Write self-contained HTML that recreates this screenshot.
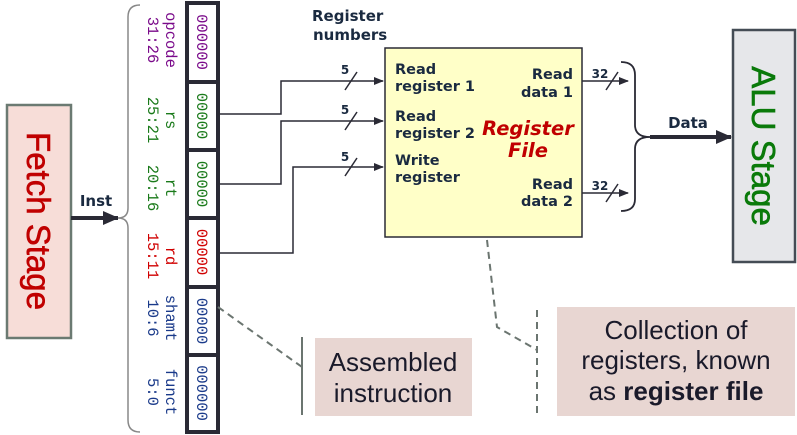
<!DOCTYPE html>
<html><head><meta charset="utf-8"><style>
html,body{margin:0;padding:0;background:#fff;}
svg{display:block;}
</style></head><body>
<svg width="797" height="435" viewBox="0 0 797 435" xmlns="http://www.w3.org/2000/svg">
<defs>
<marker id="ah" markerWidth="10" markerHeight="8" refX="9" refY="4" orient="auto" markerUnits="userSpaceOnUse"><path d="M0,0 L10,4 L0,8 Z" fill="#2a2a35"/></marker>
<marker id="ahb" markerWidth="16" markerHeight="14" refX="15" refY="7" orient="auto" markerUnits="userSpaceOnUse"><path d="M0,0 L16,7 L0,14 Z" fill="#2a2a35"/></marker>
</defs>
<!-- Fetch stage -->
<rect x="7" y="105" width="64" height="233" fill="#f7ddd8" stroke="#6b7a72" stroke-width="2.5"/>
<text transform="translate(27,221) rotate(90)" text-anchor="middle" font-family="Liberation Sans, sans-serif" font-size="33" fill="#c00000" stroke="#c00000" stroke-width="0.6">Fetch Stage</text>
<line x1="71" y1="218" x2="118" y2="218" stroke="#2a2a35" stroke-width="4" marker-end="url(#ahb)"/>
<text x="96" y="206" text-anchor="middle" font-family="DejaVu Sans, sans-serif" font-weight="bold" font-size="15" fill="#1a2a40">Inst</text>
<!-- left brace -->
<path d="M140,5 Q128,5 128,17 L128,208 Q128,218 118,218 Q128,218 128,228 L128,420 Q128,432 140,432" fill="none" stroke="#888" stroke-width="1.5"/>
<!-- instruction fields -->
<g stroke="#2a2a35" stroke-width="4" fill="#fff">
<rect x="187" y="3" width="31" height="429"/>
<line x1="187" y1="82" x2="218" y2="82"/><line x1="187" y1="150" x2="218" y2="150"/><line x1="187" y1="218" x2="218" y2="218"/><line x1="187" y1="287" x2="218" y2="287"/><line x1="187" y1="355" x2="218" y2="355"/>
</g>
<g font-family="Liberation Mono, monospace" font-size="15.5" text-anchor="middle">
<text transform="translate(197,42) rotate(90)" fill="#7a0a8a">000000</text>
<text transform="translate(197,116) rotate(90)" fill="#1a7a1a">00000</text>
<text transform="translate(197,184) rotate(90)" fill="#1a7a1a">00000</text>
<text transform="translate(197,252) rotate(90)" fill="#d00000">00000</text>
<text transform="translate(197,321) rotate(90)" fill="#1a3a8a">00000</text>
<text transform="translate(197,393) rotate(90)" fill="#1a3a8a">000000</text>
<text transform="translate(166,40) rotate(90)" fill="#7a0a8a">opcode</text>
<text transform="translate(148,40) rotate(90)" fill="#7a0a8a">31:26</text>
<text transform="translate(166,120) rotate(90)" fill="#1a7a1a">rs</text>
<text transform="translate(148,120) rotate(90)" fill="#1a7a1a">25:21</text>
<text transform="translate(166,188) rotate(90)" fill="#1a7a1a">rt</text>
<text transform="translate(148,188) rotate(90)" fill="#1a7a1a">20:16</text>
<text transform="translate(166,256) rotate(90)" fill="#d00000">rd</text>
<text transform="translate(148,256) rotate(90)" fill="#d00000">15:11</text>
<text transform="translate(166,318) rotate(90)" fill="#1a3a8a">shamt</text>
<text transform="translate(148,318) rotate(90)" fill="#1a3a8a">10:6</text>
<text transform="translate(166,392) rotate(90)" fill="#1a3a8a">funct</text>
<text transform="translate(148,392) rotate(90)" fill="#1a3a8a">5:0</text>
</g>
<!-- wires -->
<g fill="none" stroke="#2a2a35" stroke-width="1.5">
<path d="M218,114 L281,114 L281,81 L383,81" marker-end="url(#ah)"/>
<path d="M218,184 L281,184 L281,121 L383,121" marker-end="url(#ah)"/>
<path d="M218,253 L293,253 L293,167 L383,167" marker-end="url(#ah)"/>
<line x1="345" y1="90" x2="357" y2="72"/><line x1="345" y1="130" x2="357" y2="112"/><line x1="345" y1="176" x2="357" y2="158"/>
<path d="M582,81 L628,81" marker-end="url(#ah)"/>
<path d="M582,193 L628,193" marker-end="url(#ah)"/>
<line x1="606" y1="90" x2="618" y2="72"/><line x1="606" y1="202" x2="618" y2="184"/>
</g>
<g font-family="DejaVu Sans, sans-serif" font-weight="bold" font-size="12" fill="#1a2a40">
<text x="345" y="74" text-anchor="middle">5</text><text x="345" y="114" text-anchor="middle">5</text><text x="345" y="161" text-anchor="middle">5</text>
<text x="600" y="78" text-anchor="middle">32</text><text x="600" y="190" text-anchor="middle">32</text>
</g>
<text font-family="DejaVu Sans, sans-serif" font-weight="bold" font-size="15" fill="#1a2a40"><tspan x="312" y="21">Register</tspan><tspan x="313" y="40">numbers</tspan></text>
<!-- register file -->
<rect x="385" y="48" width="197" height="189" fill="#ffffc8" stroke="#2a2a35" stroke-width="1.5"/>
<g font-family="DejaVu Sans, sans-serif" font-weight="bold" font-size="14.5" fill="#1a2a40">
<text x="395" y="74">Read</text><text x="395" y="91">register 1</text>
<text x="395" y="121">Read</text><text x="395" y="138">register 2</text>
<text x="395" y="165">Write</text><text x="395" y="182">register</text>
<text x="573" y="79" text-anchor="end">Read</text><text x="573" y="97" text-anchor="end">data 1</text>
<text x="573" y="189" text-anchor="end">Read</text><text x="573" y="206" text-anchor="end">data 2</text>
</g>
<g font-family="DejaVu Sans, sans-serif" font-weight="bold" font-style="italic" font-size="19.5" fill="#c00000" text-anchor="middle">
<text x="528" y="135">Register</text><text x="528" y="157">File</text>
</g>
<!-- right brace -->
<path d="M621,62 Q635,62 635,75 L635,125 Q635,137 650,137 Q635,137 635,149 L635,199 Q635,211 621,211" fill="none" stroke="#2a2a35" stroke-width="1.8"/>
<line x1="650" y1="137" x2="731" y2="137" stroke="#2a2a35" stroke-width="4" marker-end="url(#ahb)"/>
<text x="688" y="128" text-anchor="middle" font-family="DejaVu Sans, sans-serif" font-weight="bold" font-size="15" fill="#1a2a40">Data</text>
<!-- ALU -->
<rect x="733" y="30" width="62" height="232" fill="#e6e7ea" stroke="#444c55" stroke-width="2.5"/>
<text transform="translate(752,146) rotate(90)" text-anchor="middle" font-family="Liberation Sans, sans-serif" font-size="33" fill="#0a7a0a" stroke="#0a7a0a" stroke-width="0.6">ALU Stage</text>
<!-- callouts -->
<g stroke="#6b7570" stroke-width="2" fill="none">
<path d="M218,307 L302,367" stroke-dasharray="7,5"/>
<line x1="302" y1="337" x2="302" y2="415"/>
<path d="M487,240 L497,327 L537,350" stroke-dasharray="7,5"/>
<line x1="537" y1="310" x2="537" y2="415" stroke-dasharray="7,5"/>
</g>
<rect x="315" y="338" width="157" height="78" fill="#e8d6d2"/>
<rect x="557" y="307" width="238" height="109" fill="#e8d6d2"/>
<g font-family="Liberation Sans, sans-serif" font-size="26" fill="#1a1a2a" text-anchor="middle">
<text x="393" y="371">Assembled</text><text x="393" y="402">instruction</text>
<text x="676" y="339">Collection of</text><text x="676" y="369">registers, known</text>
<text x="676" y="400">as <tspan font-weight="bold">register file</tspan></text>
</g>
</svg>
</body></html>
